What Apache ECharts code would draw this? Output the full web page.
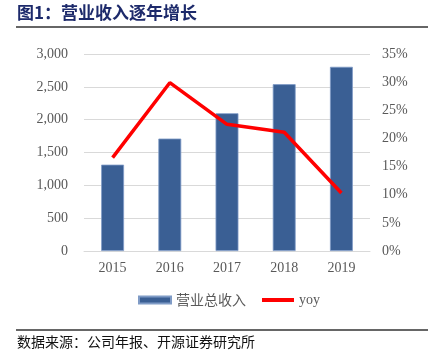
<!DOCTYPE html>
<html><head><meta charset="utf-8">
<script src="https://cdn.jsdelivr.net/npm/echarts@6/dist/echarts.min.js"></script>
<style>html,body{margin:0;padding:0;background:#fff}#c{width:432px;height:361px}</style>
</head><body><div id="c"></div>
<script>
const categories = ['2015','2016','2017','2018','2019'];
const revenue = [1315, 1712, 2098, 2540, 2805];
const yoy = [16.6, 29.9, 22.5, 21.1, 10.3];
const leftTicks = [0, 500, 1000, 1500, 2000, 2500, 3000];
const rightTicks = [0, 5, 10, 15, 20, 25, 30, 35];
const titleText = '图1：营业收入逐年增长';
const sourceText = '数据来源：公司年报、开源证券研究所';
const seriesNames = ['营业总收入', 'yoy'];

const chart = echarts.init(document.getElementById('c'));
const axisFont = {color: '#595959', fontSize: 14, fontFamily: 'Liberation Serif'};
chart.setOption({
  animation: false,
  grid: {left: 84, right: 62, top: 54, bottom: 110},
  graphic: [
    {type: 'text', left: 17, top: 4, style: {text: titleText, fill: '#1d2a6b', font: 'bold 17px "Noto Sans CJK SC"'}},
    {type: 'line', shape: {x1: 16, y1: 27, x2: 428, y2: 27}, style: {stroke: '#333', lineWidth: 1.5}},
    {type: 'line', shape: {x1: 16, y1: 330, x2: 428, y2: 330}, style: {stroke: '#333', lineWidth: 1.5}},
    {type: 'text', left: 17, top: 335, style: {text: sourceText, fill: '#111', font: '14px "Noto Sans CJK SC"'}}
  ],
  legend: {
    bottom: 49, left: 133, itemGap: 16, itemWidth: 32, itemHeight: 7,
    textStyle: {color: '#595959', fontSize: 14, fontFamily: 'Noto Sans CJK SC'},
    data: [
      {name: seriesNames[0], icon: 'rect'},
      {name: seriesNames[1], icon: 'path://M0,2 L34,2 L34,6 L0,6 Z', textStyle: {fontFamily: 'Liberation Serif'}}
    ]
  },
  xAxis: {
    type: 'category', data: categories,
    axisLine: {lineStyle: {color: '#d9d9d9'}}, axisTick: {show: false},
    axisLabel: Object.assign({margin: 10}, axisFont)
  },
  yAxis: [
    {type: 'value', min: leftTicks[0], max: leftTicks[leftTicks.length-1], interval: 500,
     axisLine: {show: false}, axisTick: {show: false},
     splitLine: {lineStyle: {color: '#d9d9d9'}},
     axisLabel: Object.assign({margin: 16, formatter: v => v.toLocaleString('en-US')}, axisFont)},
    {type: 'value', min: rightTicks[0], max: rightTicks[rightTicks.length-1], interval: 5,
     axisLine: {show: false}, axisTick: {show: false}, splitLine: {show: false},
     axisLabel: Object.assign({margin: 12, formatter: '{value}%'}, axisFont)}
  ],
  series: [
    {name: seriesNames[0], type: 'bar', data: revenue, barWidth: '40%',
     itemStyle: {color: '#3a5f94', borderColor: '#7f9bc6', borderWidth: 0.8}},
    {name: seriesNames[1], type: 'line', yAxisIndex: 1, data: yoy, symbol: 'none',
     lineStyle: {color: '#ff0000', width: 3.5}, itemStyle: {color: '#ff0000'}}
  ]
});
</script></body></html>
